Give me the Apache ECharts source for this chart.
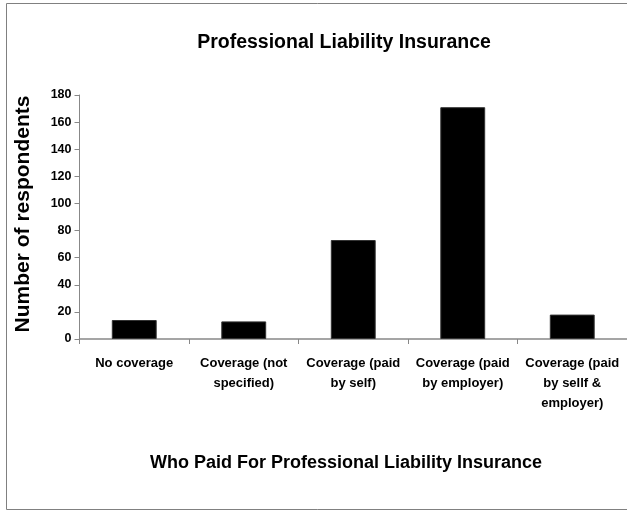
<!DOCTYPE html>
<html>
<head>
<meta charset="utf-8">
<script src="https://cdn.jsdelivr.net/npm/echarts@6/dist/echarts.min.js"></script>
<style>
  html, body { margin: 0; padding: 0; background: #fff; }
  #chart { width: 627px; height: 512px; }
</style>
</head>
<body>
<div id="chart"></div>
<script>
// categories and counts
var categories = [
    'No coverage',
    'Coverage (not\nspecified)',
    'Coverage (paid\nby self)',
    'Coverage (paid\nby employer)',
    'Coverage (paid\nby sellf &\nemployer)'
];
var respondents = [14, 13, 73, 171, 18];
var yTicks = [0, 20, 40, 60, 80, 100, 120, 140, 160, 180];

var font = 'Liberation Sans, Arial, sans-serif';
var chart = echarts.init(document.getElementById('chart'));

chart.setOption({
    backgroundColor: '#fff',
    animation: false,
    title: {
        text: 'Professional Liability Insurance',
        left: 339,
        top: 28,
        textAlign: 'center',
        textStyle: { fontFamily: font, fontSize: 19.5, fontWeight: 'bold', color: '#000' }
    },
    graphic: [{
        type: 'rect',
        shape: { x: 6.5, y: 3.5, width: 640, height: 506 },
        style: { fill: 'none', stroke: '#808080', lineWidth: 1 },
        silent: true
    }, {
        // x axis title, placed like the original's free text box
        type: 'text',
        x: 346,
        y: 463,
        style: {
            text: 'Who Paid For Professional Liability Insurance',
            align: 'center', verticalAlign: 'middle',
            fontFamily: font, fontSize: 18, fontWeight: 'bold', fill: '#000'
        }
    }],
    grid: { left: 79.5, right: -4, top: 95, bottom: 173, containLabel: false },
    xAxis: {
        type: 'category',
        data: categories,
        axisLine: { lineStyle: { color: '#888', width: 1.5 } },
        axisTick: { show: true, length: 5, lineStyle: { color: '#888' } },
        axisLabel: {
            interval: 0, margin: 14, lineHeight: 20,
            fontFamily: font, fontSize: 13, fontWeight: 'bold', color: '#000'
        },
        splitLine: { show: false }
    },
    yAxis: {
        type: 'value',
        min: yTicks[0],
        max: yTicks[yTicks.length - 1],
        interval: 20,
        name: 'Number of respondents',
        nameLocation: 'middle',
        nameGap: 46,
        nameTextStyle: { fontFamily: font, fontSize: 21, fontWeight: 'bold', color: '#000', padding: [0, 0, 0, 6] },
        axisLine: { show: true, lineStyle: { color: '#888', width: 1 } },
        axisTick: { show: true, length: 5, lineStyle: { color: '#888' } },
        axisLabel: { margin: 8, fontFamily: font, fontSize: 12.5, fontWeight: 'bold', color: '#000' },
        splitLine: { show: false }
    },
    series: [{
        type: 'bar',
        data: respondents,
        barWidth: '41%',
        itemStyle: { color: '#000', borderColor: '#333', borderWidth: 1 }
    }]
});
</script>
</body>
</html>
